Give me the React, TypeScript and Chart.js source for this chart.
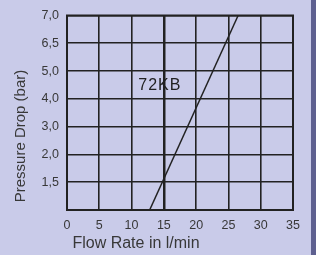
import React, { useEffect, useRef } from "react";
import { Chart, registerables } from "chart.js";

Chart.register(...registerables);

const xTicks = [0, 5, 10, 15, 20, 25, 30, 35];
const yTickLabels = ["", "1,5", "2,0", "3,0", "4,0", "5,0", "6,5", "7,0"];
const curveFlow = [12.8, 26.5];
const curveLevel = [0, 7];
const markerFlow = 15;
const markerLabel = "72KB";
const xTitle = "Flow Rate in l/min";
const yTitle = "Pressure Drop (bar)";

const BG = "#c9cbe9";
const STRIP = "#5e6090";
const INK = "#222222";
const TEXT = "#383838";
const FONT = "'Liberation Sans', Arial, sans-serif";

export default function App() {
  const ref = useRef<HTMLCanvasElement>(null);
  useEffect(() => {
    if (!ref.current) return;
    const decor = {
      id: "decor",
      beforeDraw(chart: any) {
        const c = chart.ctx;
        c.save();
        c.fillStyle = BG;
        c.fillRect(0, 0, chart.width, chart.height);
        c.fillStyle = STRIP;
        c.fillRect(311, 0, chart.width - 311, chart.height);
        c.restore();
      },
      afterDraw(chart: any) {
        const c = chart.ctx;
        const xs = chart.scales.x;
        const ys = chart.scales.y;
        const area = chart.chartArea;
        c.save();
        c.fillStyle = TEXT;
        c.textAlign = "center";
        c.textBaseline = "middle";
        c.font = `16px ${FONT}`;
        c.fillText(xTitle, 136, 244);
        c.font = `15px ${FONT}`;
        c.translate(21, 136);
        c.rotate(-Math.PI / 2);
        c.fillText(yTitle, 0, 0);
        c.restore();
        c.save();
        c.fillStyle = "#222";
        c.textAlign = "center";
        c.textBaseline = "middle";
        c.font = `16px ${FONT}`;
        try { (c as any).letterSpacing = "1px"; } catch (e) {}
        const lx = xs.getPixelForValue(markerFlow) - 4;
        const ly = ys.getPixelForValue(4.5) + 1;
        c.fillText(markerLabel, lx, ly);
        c.restore();
        c.save();
        c.strokeStyle = INK;
        c.lineWidth = 2;
        c.strokeRect(area.left, area.top, area.right - area.left, area.bottom - area.top);
        c.restore();
      },
    };
    const chart = new Chart(ref.current, {
      type: "scatter",
      data: {
        datasets: [
          {
            data: curveFlow.map((f, i) => ({ x: f, y: curveLevel[i] })),
            showLine: true,
            borderColor: INK,
            borderWidth: 1.5,
            pointRadius: 0,
            fill: false,
          },
        ],
      },
      options: {
        animation: false,
        responsive: false,
        devicePixelRatio: 1,
        layout: { padding: { left: 0, top: 15, right: 23, bottom: 0 } },
        plugins: { legend: { display: false }, tooltip: { enabled: false } },
        scales: {
          x: {
            type: "linear",
            min: 0,
            max: 35,
            afterBuildTicks: (s: any) => {
              s.ticks = xTicks.map((v) => ({ value: v }));
            },
            afterFit: (s: any) => {
              s.height = 45;
            },
            border: { display: false },
            grid: {
              color: INK,
              lineWidth: (ctx: any) => (ctx.tick && ctx.tick.value === markerFlow ? 2.5 : 1.6),
              drawTicks: false,
            },
            ticks: {
              color: TEXT,
              font: { family: FONT, size: 12.5 },
              padding: 8,
              maxRotation: 0,
            },
          },
          y: {
            type: "linear",
            min: 0,
            max: 7,
            afterBuildTicks: (s: any) => {
              s.ticks = yTickLabels.map((_, i) => ({ value: i }));
            },
            afterFit: (s: any) => {
              s.width = 67;
            },
            border: { display: false },
            grid: { color: INK, lineWidth: 1.6, drawTicks: false },
            ticks: {
              color: TEXT,
              font: { family: FONT, size: 12.5 },
              padding: 8,
              callback: (v: any) => yTickLabels[Math.round(Number(v))] ?? "",
            },
          },
        },
      },
      plugins: [decor],
    } as any);
    return () => chart.destroy();
  }, []);
  return (
    <div style={{ position: "fixed", left: 0, top: 0, width: 316, height: 255 }}>
      <canvas ref={ref} width={316} height={255} style={{ display: "block" }} />
    </div>
  );
}
